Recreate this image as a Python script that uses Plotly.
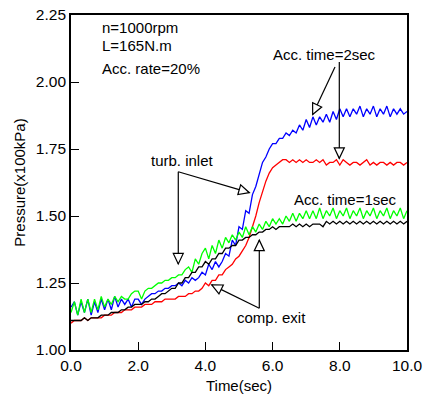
import plotly.graph_objects as go

# Sampling instants (s)
time_s = [round(i * 0.1, 1) for i in range(101)]

# Turbine inlet pressure, acceleration time 2 s (x100 kPa)
turb_inlet_2s = [
    1.16, 1.18, 1.13, 1.18, 1.14, 1.19, 1.13, 1.18, 1.14, 1.19,
    1.15, 1.19, 1.15, 1.20, 1.16, 1.19, 1.17, 1.19, 1.16, 1.19,
    1.19, 1.17, 1.19, 1.20, 1.21, 1.21, 1.22, 1.22, 1.23, 1.23,
    1.24, 1.24, 1.25, 1.24, 1.26, 1.25, 1.27, 1.26, 1.27, 1.29,
    1.28, 1.32, 1.30, 1.33, 1.31, 1.33, 1.36, 1.35, 1.41, 1.39,
    1.46, 1.45, 1.52, 1.51, 1.58, 1.61, 1.66, 1.70, 1.72, 1.75,
    1.77, 1.77, 1.79, 1.79, 1.81, 1.80, 1.82, 1.81, 1.84, 1.82,
    1.86, 1.83, 1.87, 1.84, 1.87, 1.85, 1.88, 1.85, 1.89, 1.86,
    1.90, 1.87, 1.90, 1.87, 1.90, 1.88, 1.91, 1.87, 1.90, 1.88,
    1.91, 1.87, 1.90, 1.88, 1.91, 1.87, 1.90, 1.88, 1.90, 1.88,
    1.89,
]

# Compressor exit pressure, acceleration time 2 s
comp_exit_2s = [
    1.10, 1.11, 1.11, 1.11, 1.12, 1.11, 1.12, 1.12, 1.12, 1.12,
    1.13, 1.13, 1.13, 1.14, 1.14, 1.14, 1.15, 1.15, 1.15, 1.16,
    1.16, 1.16, 1.17, 1.17, 1.17, 1.18, 1.18, 1.18, 1.19, 1.19,
    1.19, 1.19, 1.20, 1.20, 1.20, 1.21, 1.21, 1.22, 1.22, 1.23,
    1.25, 1.24, 1.26, 1.26, 1.28, 1.28, 1.30, 1.31, 1.32, 1.34,
    1.35, 1.37, 1.39, 1.42, 1.46, 1.50, 1.55, 1.59, 1.63, 1.66,
    1.68, 1.69, 1.70, 1.71, 1.71, 1.70, 1.71, 1.70, 1.71, 1.70,
    1.71, 1.70, 1.70, 1.71, 1.70, 1.71, 1.69, 1.70, 1.70, 1.71,
    1.69, 1.71, 1.70, 1.69, 1.70, 1.70, 1.69, 1.70, 1.71, 1.69,
    1.70, 1.69, 1.70, 1.70, 1.69, 1.70, 1.69, 1.70, 1.70, 1.69,
    1.70,
]

# Turbine inlet pressure, acceleration time 1 s
turb_inlet_1s = [
    1.14, 1.18, 1.13, 1.19, 1.14, 1.19, 1.14, 1.19, 1.15, 1.20,
    1.16, 1.19, 1.17, 1.20, 1.18, 1.20, 1.19, 1.19, 1.21, 1.22,
    1.22, 1.19, 1.22, 1.23, 1.23, 1.24, 1.25, 1.25, 1.26, 1.26,
    1.27, 1.27, 1.28, 1.28, 1.30, 1.31, 1.29, 1.34, 1.32, 1.36,
    1.38, 1.34, 1.39, 1.36, 1.41, 1.38, 1.42, 1.40, 1.43, 1.41,
    1.44, 1.42, 1.46, 1.43, 1.46, 1.44, 1.47, 1.45, 1.48, 1.46,
    1.49, 1.47, 1.49, 1.47, 1.50, 1.48, 1.51, 1.48, 1.51, 1.49,
    1.52, 1.49, 1.52, 1.49, 1.53, 1.49, 1.52, 1.50, 1.53, 1.49,
    1.52, 1.50, 1.53, 1.49, 1.52, 1.50, 1.53, 1.49, 1.52, 1.50,
    1.53, 1.49, 1.52, 1.50, 1.53, 1.49, 1.52, 1.50, 1.53, 1.49,
    1.52,
]

# Compressor exit pressure, acceleration time 1 s
comp_exit_1s = [
    1.11, 1.11, 1.11, 1.11, 1.12, 1.11, 1.12, 1.12, 1.12, 1.13,
    1.13, 1.13, 1.14, 1.14, 1.14, 1.15, 1.15, 1.16, 1.16, 1.17,
    1.17, 1.17, 1.18, 1.18, 1.19, 1.19, 1.20, 1.21, 1.21, 1.22,
    1.23, 1.23, 1.25, 1.25, 1.27, 1.27, 1.29, 1.29, 1.31, 1.31,
    1.33, 1.32, 1.34, 1.34, 1.36, 1.36, 1.38, 1.38, 1.39, 1.39,
    1.41, 1.41, 1.42, 1.42, 1.43, 1.43, 1.44, 1.44, 1.45, 1.45,
    1.46, 1.45, 1.46, 1.46, 1.46, 1.46, 1.47, 1.46, 1.47, 1.46,
    1.47, 1.46, 1.47, 1.47, 1.47, 1.46, 1.48, 1.47, 1.48, 1.47,
    1.48, 1.47, 1.48, 1.47, 1.48, 1.47, 1.48, 1.47, 1.48, 1.47,
    1.48, 1.47, 1.48, 1.47, 1.48, 1.47, 1.48, 1.47, 1.48, 1.47,
    1.48,
]

x_ticks = [0, 2, 4, 6, 8, 10]
x_tick_text = ["0.0", "2.0", "4.0", "6.0", "8.0", "10.0"]
y_ticks = [1.00, 1.25, 1.50, 1.75, 2.00, 2.25]
y_tick_text = ["1.00", "1.25", "1.50", "1.75", "2.00", "2.25"]

W, H = 424, 402
ML, MR, MT, MB = 71, 17, 15, 52
X_RANGE = (0.0, 10.0)
Y_RANGE = (1.0, 2.25)
PX_PER_X = (W - ML - MR) / (X_RANGE[1] - X_RANGE[0])
PX_PER_Y = (H - MT - MB) / (Y_RANGE[1] - Y_RANGE[0])

FONT = "Liberation Sans, Arial, sans-serif"

fig = go.Figure()
series = [
    (turb_inlet_2s, "#0000ff"),
    (comp_exit_2s, "#ff0000"),
    (turb_inlet_1s, "#00ff00"),
    (comp_exit_1s, "#000000"),
]
for values, color in series:
    fig.add_trace(go.Scatter(
        x=time_s, y=values, mode="lines",
        line=dict(color=color, width=1.3),
        showlegend=False, hoverinfo="skip",
    ))

# Text labels (data coordinates)
labels = [
    ("n=1000rpm", 0.86, 2.203, "left"),
    ("L=165N.m", 0.86, 2.137, "left"),
    ("Acc. rate=20%", 0.86, 2.050, "left"),
    ("Acc. time=2sec", 7.545, 2.102, "center"),
    ("turb. inlet", 3.318, 1.707, "center"),
    ("comp. exit", 5.967, 1.120, "center"),
    ("Acc. time=1sec", 8.18, 1.560, "center"),
]
for text, lx, ly, anchor in labels:
    fig.add_annotation(
        x=lx, y=ly, text=text, showarrow=False,
        xanchor=anchor, yanchor="middle",
        font=dict(family=FONT, size=15, color="black"),
    )

# Pointer arrows with hollow triangular heads: (start, tip)
arrows = [
    ((7.857, 2.056), (7.193, 1.879)),
    ((7.985, 2.075), (7.985, 1.715)),
    ((3.193, 1.665), (5.307, 1.587)),
    ((3.193, 1.665), (3.193, 1.321)),
    ((5.604, 1.156), (5.604, 1.410)),
    ((5.604, 1.156), (4.188, 1.243)),
]
HEAD_LEN, HEAD_HALF = 10.5, 5.0
for (sx, sy), (tx, ty) in arrows:
    fig.add_shape(type="line", x0=sx, y0=sy, x1=tx, y1=ty,
                  xref="x", yref="y", line=dict(color="black", width=1.2),
                  layer="above")
    dx = (sx - tx) * PX_PER_X
    dy = (sy - ty) * PX_PER_Y
    n = (dx * dx + dy * dy) ** 0.5
    ux, uy = dx / n, dy / n
    px_, py_ = -uy, ux
    bx, by = ux * HEAD_LEN, uy * HEAD_LEN
    p1 = (bx + px_ * HEAD_HALF, by + py_ * HEAD_HALF)
    p2 = (bx - px_ * HEAD_HALF, by - py_ * HEAD_HALF)
    path = f"M0,0 L{p1[0]:.2f},{p1[1]:.2f} L{p2[0]:.2f},{p2[1]:.2f} Z"
    fig.add_shape(type="path", path=path, xref="x", yref="y",
                  xsizemode="pixel", ysizemode="pixel",
                  xanchor=tx, yanchor=ty,
                  fillcolor="white", line=dict(color="black", width=1.2),
                  layer="above")

axis_common = dict(
    showline=True, linecolor="black", linewidth=1.8, mirror=True,
    ticks="inside", ticklen=8, tickwidth=1.3, tickcolor="black",
    showgrid=False, zeroline=False,
    tickfont=dict(family=FONT, size=15.5, color="black"),
)
fig.update_xaxes(
    range=list(X_RANGE), tickvals=x_ticks, ticktext=x_tick_text,
    title=dict(text="Time(sec)", font=dict(family=FONT, size=15, color="black"), standoff=8),
    **axis_common,
)
fig.update_yaxes(
    range=list(Y_RANGE), tickvals=y_ticks, ticktext=y_tick_text,
    title=dict(text="Pressure(x100kPa)", font=dict(family=FONT, size=15, color="black"), standoff=7),
    **axis_common,
)
fig.update_layout(
    width=W, height=H,
    margin=dict(l=ML, r=MR, t=MT, b=MB, autoexpand=False),
    plot_bgcolor="white", paper_bgcolor="white",
)

fig.write_html("out.html")
